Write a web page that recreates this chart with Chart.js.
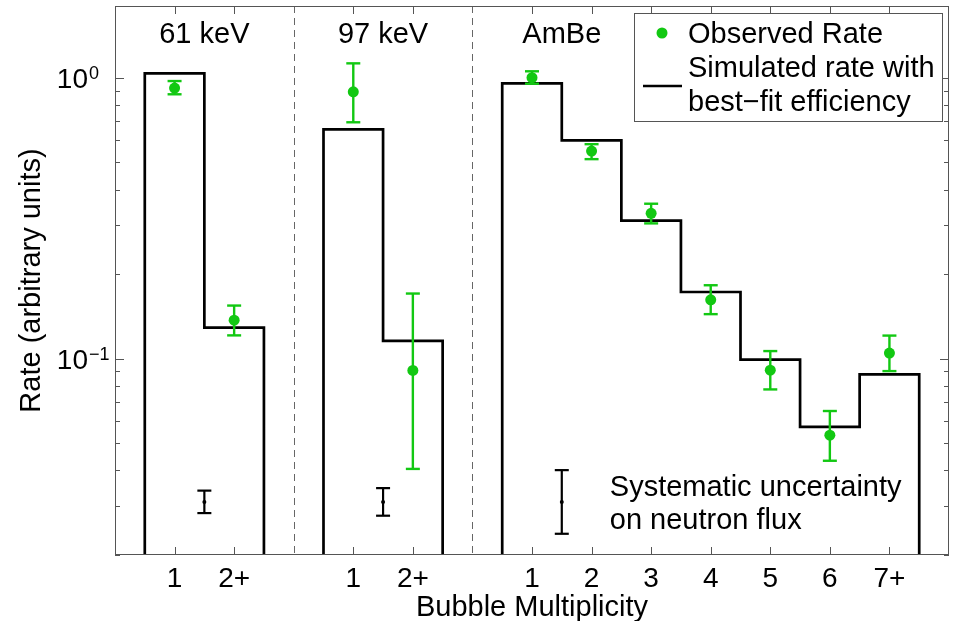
<!DOCTYPE html>
<html>
<head>
<meta charset="utf-8">
<script src="https://cdn.jsdelivr.net/npm/chart.js@4.4.1/dist/chart.umd.min.js"></script>
<style>
  html, body { margin: 0; padding: 0; background: #fff; }
  #wrap { width: 955px; height: 621px; }
</style>
</head>
<body>
<div id="wrap"><canvas id="chart" width="955" height="621"></canvas></div>
<script>
// bubble multiplicity, three sources side by side on one log axis
const groupNames = ['61 keV', '97 keV', 'AmBe'];
const groupIdx = [[0, 1], [2, 3], [4, 5, 6, 7, 8, 9, 10]];
const groupMid = [1.5, 4.5, 7.5];
const separators = [3, 6];

const tickPos = [1, 2, 4, 5, 7, 8, 9, 10, 11, 12, 13];
const tickLabels = ['1', '2+', '1', '2+', '1', '2', '3', '4', '5', '6', '7+'];

const observed = [0.919, 0.137, 0.891, 0.0908, 1.0, 0.548, 0.329, 0.162, 0.091, 0.0534, 0.1047];
const errLow   = [0.873, 0.121, 0.694, 0.0405, 0.952, 0.513, 0.303, 0.144, 0.0777, 0.0433, 0.0903];
const errHigh  = [0.973, 0.1545, 1.125, 0.1705, 1.054, 0.580, 0.356, 0.1825, 0.1064, 0.0651, 0.1208];
const simulated = [1.037, 0.129, 0.655, 0.1156, 0.955, 0.598, 0.310, 0.1727, 0.0992, 0.0572, 0.0879];

// systematic uncertainty on neutron flux, one bar per source
const sysPos = [1.5, 4.5, 7.5];
const sysMid = [0.0309, 0.0309, 0.0309];
const sysLow = [0.0282, 0.0276, 0.0238];
const sysHigh = [0.0339, 0.0346, 0.0401];

const yMin = 0.02, yMax = 1.8;
const GREEN = '#12c812';
const FONT = '"Liberation Sans", Arial, Helvetica, sans-serif';

Chart.defaults.font.family = FONT;
Chart.defaults.color = '#000';

// step outline for the simulated rate, one closed run per source
const stepPts = [];
groupIdx.forEach((idx) => {
  const first = tickPos[idx[0]], last = tickPos[idx[idx.length - 1]];
  stepPts.push({ x: first - 0.5, y: yMin });
  idx.forEach((i) => {
    stepPts.push({ x: tickPos[i] - 0.5, y: simulated[i] });
    stepPts.push({ x: tickPos[i] + 0.5, y: simulated[i] });
  });
  stepPts.push({ x: last + 0.5, y: yMin });
  stepPts.push({ x: last + 0.5, y: null });
});

const obsPts = observed.map((v, i) => ({ x: tickPos[i], y: v }));

function line(ctx, x1, y1, x2, y2) {
  ctx.beginPath();
  ctx.moveTo(x1, y1);
  ctx.lineTo(x2, y2);
  ctx.stroke();
}

function errorBar(ctx, x, yTop, yBot, cap) {
  line(ctx, x, yTop, x, yBot);
  line(ctx, x - cap, yTop, x + cap, yTop);
  line(ctx, x - cap, yBot, x + cap, yBot);
}

const decor = {
  id: 'decor',
  beforeDatasetsDraw(chart) {
    const { ctx, chartArea: a, scales: { x } } = chart;
    ctx.save();
    ctx.strokeStyle = '#666';
    ctx.lineWidth = 1;
    ctx.setLineDash([7, 5]);
    separators.forEach((s) => {
      const px = Math.round(x.getPixelForValue(s)) + 0.5;
      line(ctx, px, a.top, px, a.bottom);
    });
    ctx.restore();
  },
  beforeDatasetDraw(chart, args) {
    if (args.index !== 0) return;
    const { ctx, scales: { x, y } } = chart;
    ctx.save();
    ctx.strokeStyle = GREEN;
    ctx.lineWidth = 2.4;
    observed.forEach((v, i) => {
      errorBar(ctx, x.getPixelForValue(tickPos[i]), y.getPixelForValue(errHigh[i]),
        y.getPixelForValue(errLow[i]), 7);
    });
    ctx.restore();
  },
  afterDraw(chart) {
    const { ctx, chartArea: a, scales: { x, y } } = chart;
    ctx.save();

    // inward ticks on all four sides
    ctx.strokeStyle = '#555';
    ctx.lineWidth = 1;
    tickPos.forEach((t) => {
      const px = Math.round(x.getPixelForValue(t)) + 0.5;
      line(ctx, px, a.bottom, px, a.bottom - 8);
      line(ctx, px, a.top, px, a.top + 8);
    });
    y.ticks.forEach((t) => {
      const e = Math.floor(Math.log10(t.value) + 1e-9);
      const m = t.value / Math.pow(10, e);
      if (Math.abs(m - Math.round(m)) > 1e-6) return;
      const len = Math.round(m) === 1 ? 9 : 5;
      const py = Math.round(y.getPixelForValue(t.value)) + 0.5;
      line(ctx, a.left, py, a.left + len, py);
      line(ctx, a.right, py, a.right - len, py);
    });
    ctx.strokeStyle = '#555';
    ctx.strokeRect(a.left + 0.5, a.top + 0.5, a.right - a.left - 1, a.bottom - a.top - 1);

    // y labels as powers of ten
    ctx.fillStyle = '#000';
    [1, 0.1].forEach((v) => {
      const py = y.getPixelForValue(v);
      ctx.font = '28px ' + FONT;
      ctx.textAlign = 'right';
      ctx.textBaseline = 'alphabetic';
      ctx.fillText('10', 88, py + 10.5);
      ctx.font = '18px ' + FONT;
      ctx.textAlign = 'left';
      ctx.fillText(v === 1 ? '0' : '\u22121', 89, py + 1.5);
    });

    // source names
    ctx.font = '29px ' + FONT;
    ctx.textAlign = 'center';
    groupNames.forEach((n, i) => ctx.fillText(n, x.getPixelForValue(groupMid[i]), a.top + 37));

    // systematic bars
    ctx.strokeStyle = '#000';
    ctx.fillStyle = '#000';
    ctx.lineWidth = 2.2;
    sysPos.forEach((p, i) => {
      const px = x.getPixelForValue(p);
      errorBar(ctx, px, y.getPixelForValue(sysHigh[i]), y.getPixelForValue(sysLow[i]), 7);
      ctx.beginPath();
      ctx.arc(px, y.getPixelForValue(sysMid[i]), 2, 0, Math.PI * 2);
      ctx.fill();
    });
    const sx = x.getPixelForValue(sysPos[2]) + 48;
    const sy = y.getPixelForValue(sysMid[2]);
    ctx.textAlign = 'left';
    ctx.fillText('Systematic uncertainty', sx, sy - 6);
    ctx.fillText('on neutron flux', sx, sy + 27);

    // legend box
    const lx = 634, ly = 13, lw = 308, lh = 108;
    ctx.fillStyle = '#fff';
    ctx.fillRect(lx, ly, lw, lh);
    ctx.strokeStyle = '#555';
    ctx.lineWidth = 1;
    ctx.strokeRect(lx + 0.5, ly + 0.5, lw, lh);
    ctx.fillStyle = GREEN;
    ctx.beginPath();
    ctx.arc(662, 33, 5.5, 0, Math.PI * 2);
    ctx.fill();
    ctx.strokeStyle = '#000';
    ctx.lineWidth = 2.5;
    line(ctx, 643, 86, 682, 86);
    ctx.fillStyle = '#000';
    ctx.font = '29px ' + FONT;
    ctx.fillText('Observed Rate', 688, 43);
    ctx.fillText('Simulated rate with', 688, 77);
    ctx.fillText('best\u2212fit efficiency', 688, 111);
    ctx.restore();
  }
};

new Chart(document.getElementById('chart').getContext('2d'), {
  type: 'scatter',
  data: {
    datasets: [
      {
        label: 'Observed Rate',
        data: obsPts,
        backgroundColor: GREEN,
        borderColor: GREEN,
        borderWidth: 0,
        pointRadius: 5.5,
        showLine: false
      },
      {
        label: 'Simulated rate with best-fit efficiency',
        data: stepPts,
        showLine: true,
        borderColor: '#000',
        borderWidth: 2.7,
        pointRadius: 0,
        tension: 0,
        spanGaps: false,
        borderJoinStyle: 'miter'
      }
    ]
  },
  options: {
    responsive: false,
    animation: false,
    layout: { padding: { top: 6, right: 6, left: 0, bottom: 0 } },
    plugins: {
      legend: { display: false },
      tooltip: { enabled: false }
    },
    scales: {
      x: {
        type: 'linear',
        min: 0,
        max: 14,
        afterBuildTicks: (s) => { s.ticks = tickPos.map((v) => ({ value: v })); },
        afterFit: (s) => { s.height = 66; },
        grid: { display: false, drawTicks: false },
        border: { display: false },
        ticks: {
          autoSkip: false,
          maxRotation: 0,
          padding: 7,
          font: { size: 28 },
          color: '#000',
          callback: (v) => tickLabels[tickPos.indexOf(v)]
        },
        title: {
          display: true,
          text: 'Bubble Multiplicity',
          font: { size: 29 },
          color: '#000',
          padding: { top: 0, bottom: -4 }
        }
      },
      y: {
        type: 'logarithmic',
        min: yMin,
        max: yMax,
        afterFit: (s) => { s.width = 115; },
        grid: { display: false, drawTicks: false },
        border: { display: false },
        ticks: { display: false },
        title: {
          display: true,
          text: 'Rate (arbitrary units)',
          font: { size: 29 },
          color: '#000',
          padding: { top: 15, bottom: 0 }
        }
      }
    }
  },
  plugins: [decor]
});
</script>
</body>
</html>
